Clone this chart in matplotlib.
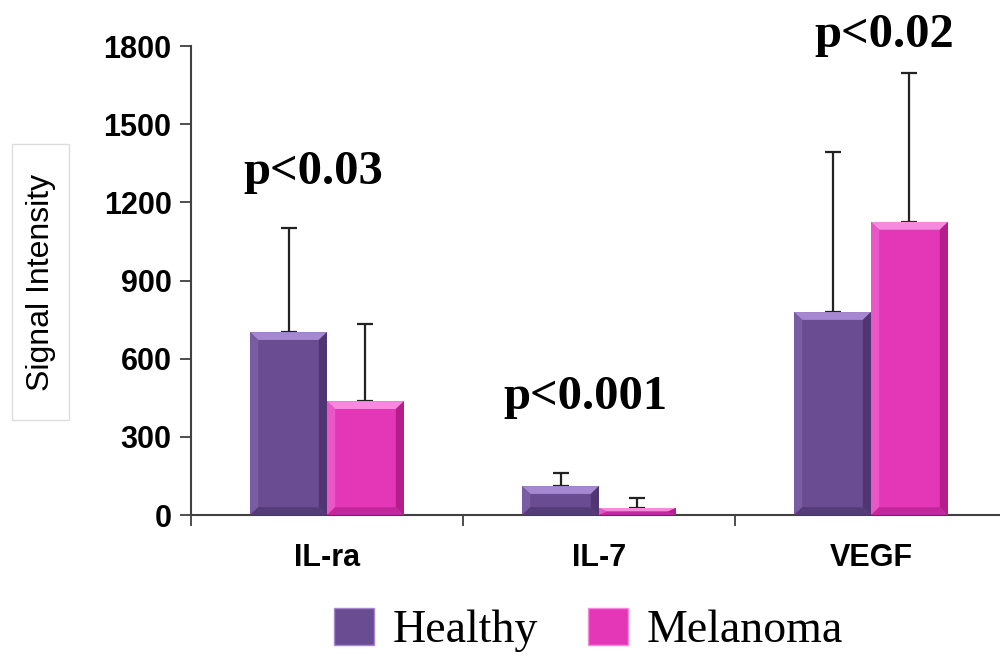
import numpy as np
import matplotlib
matplotlib.use("Agg")
from matplotlib import pyplot as plt
from matplotlib.patches import Polygon, Patch, Rectangle

categories = ["IL-ra", "IL-7", "VEGF"]
healthy = [702, 111, 779]
healthy_err = [399, 50, 614]
melanoma = [437, 27, 1125]
melanoma_err = [296, 38, 571]
pvals = ["p<0.03", "p<0.001", "p<0.02"]
p_x = [-0.05, 0.95, 2.05]
p_y = [1316, 453, 1842]
yticks = [0, 300, 600, 900, 1200, 1500, 1800]

purple = {"main": "#6a4c92", "top": "#a588cf", "left": "#7a5ca4", "right": "#4f3672", "bottom": "#553b78"}
magenta = {"main": "#e437b8", "top": "#f68ade", "left": "#ea56c6", "right": "#b51d8d", "bottom": "#c3279c"}

fig = plt.figure(figsize=(10, 6.55), dpi=100)
ax = fig.add_axes([0.191, 0.2137, 0.816, 0.716])

x = np.arange(len(categories))
w = 0.283

def bevel(bars, col):
    # fake the bevelled look of the original bars
    for b in bars:
        x0, y0 = b.get_x(), b.get_y()
        x1, y1 = x0 + b.get_width(), y0 + b.get_height()
        dx = 0.03
        dy = min(30, b.get_height() / 2)
        ax.add_patch(Polygon([[x0, y1], [x1, y1], [x1 - dx, y1 - dy], [x0 + dx, y1 - dy]], closed=True, color=col["top"], lw=0, zorder=3))
        ax.add_patch(Polygon([[x0, y0], [x0, y1], [x0 + dx, y1 - dy], [x0 + dx, y0 + dy]], closed=True, color=col["left"], lw=0, zorder=3))
        ax.add_patch(Polygon([[x1, y0], [x1, y1], [x1 - dx, y1 - dy], [x1 - dx, y0 + dy]], closed=True, color=col["right"], lw=0, zorder=3))
        ax.add_patch(Polygon([[x0, y0], [x1, y0], [x1 - dx, y0 + dy], [x0 + dx, y0 + dy]], closed=True, color=col["bottom"], lw=0, zorder=3))

b1 = ax.bar(x - w / 2, healthy, w, color=purple["main"], zorder=2)
b2 = ax.bar(x + w / 2, melanoma, w, color=magenta["main"], zorder=2)
bevel(b1, purple)
bevel(b2, magenta)

ax.errorbar(x - w / 2, healthy, yerr=[np.zeros(3), healthy_err], fmt="none", ecolor="#222222", elinewidth=1.6, capsize=6, capthick=1.6, zorder=1)
ax.errorbar(x + w / 2, melanoma, yerr=[np.zeros(3), melanoma_err], fmt="none", ecolor="#222222", elinewidth=1.6, capsize=6, capthick=1.6, zorder=1)

for i, p in enumerate(pvals):
    ax.text(p_x[i], p_y[i], p, ha="center", va="center", fontsize=35, fontweight="bold",
            family="Liberation Serif", clip_on=False)

ax.set_xlim(-0.5, 2.5)
ax.set_ylim(0, 1800)
ax.set_yticks(yticks)
ax.set_yticklabels([str(t) for t in yticks], fontsize=22, fontweight="bold", family="Liberation Sans")
ax.set_xticks(x)
ax.set_xticklabels(categories, fontsize=22, fontweight="bold", family="Liberation Sans")
ax.set_xticks(np.arange(-0.5, 3, 1), minor=True)
ax.tick_params(axis="x", which="major", length=0, pad=20)
ax.tick_params(axis="x", which="minor", length=8, width=1.3, color="#404040", direction="out")
ax.tick_params(axis="y", length=8, width=1.3, color="#404040", pad=6)
for s in ["top", "right"]:
    ax.spines[s].set_visible(False)
for s in ["left", "bottom"]:
    ax.spines[s].set_color("#404040")
    ax.spines[s].set_linewidth(1.5)

fig.patches.append(Rectangle((0.012, 0.3588), 0.057, 0.4214, transform=fig.transFigure,
                             fc="white", ec="#dddddd", lw=1))
fig.text(0.041, 0.5695, "Signal Intensity", rotation=90, ha="center", va="center", fontsize=23,
         family="Liberation Sans")

handles = [Patch(facecolor=purple["main"], edgecolor=purple["top"]), Patch(facecolor=magenta["main"], edgecolor=magenta["top"])]
fig.legend(handles, ["Healthy", "Melanoma"], loc="center", bbox_to_anchor=(0.5885, 0.038), ncol=2,
           frameon=False, prop={"family": "Liberation Serif", "size": 33},
           handlelength=0.87, handleheight=0.87, columnspacing=1.1, handletextpad=0.4)

fig.savefig("out.png", dpi=100)
